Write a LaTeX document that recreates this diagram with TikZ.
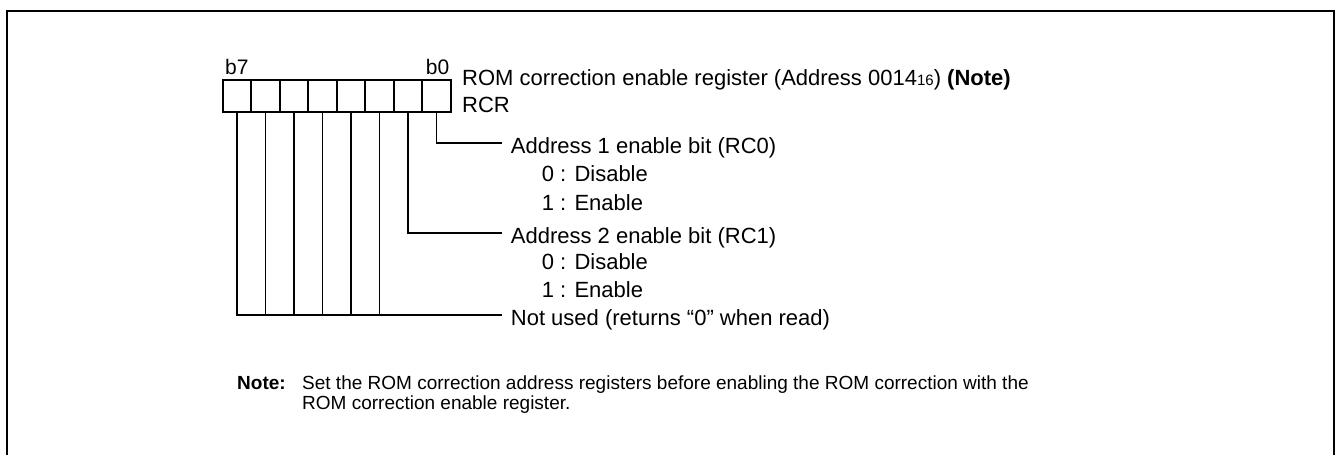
\documentclass[tikz,border=0pt]{standalone}
\usepackage{fontspec}
\setmainfont{Liberation Sans}
\usetikzlibrary{positioning}

\begin{document}
\begin{tikzpicture}[x=1pt, y=-1pt,
  bitcell/.style={rectangle, draw=black, line width=1.7pt, minimum width=28.5pt, minimum height=31.7pt, inner sep=0pt},
  bitlabel/.style={anchor=base, inner sep=0pt, font={\fontsize{21}{25}\selectfont}},
  regtext/.style={anchor=base west, inner sep=0pt, font={\fontsize{22}{28}\selectfont}},
  fieldtext/.style={anchor=west, inner xsep=9pt, inner ysep=0pt, text height=20pt, text depth=0pt, font={\fontsize{22}{28}\selectfont}},
  valtext/.style={anchor=west, inner sep=0pt, text height=20pt, text depth=0pt, font={\fontsize{22}{28}\selectfont}},
  notetext/.style={anchor=base west, inner sep=0pt, font={\fontsize{19}{17}\selectfont}},
  bitline/.style={line width=1.6pt},
  frame/.style={line width=2.6pt}
]
\useasboundingbox (0,0) rectangle (1337,455);
\draw[frame] (7,455) -- (7,11) -- (1334,11) -- (1334,455);

% register cells, b7 on the left
\node[bitcell] (c7) at (237.0,96) {};
\node[bitcell] (c6) at (265.5,96) {};
\node[bitcell] (c5) at (294.0,96) {};
\node[bitcell] (c4) at (322.5,96) {};
\node[bitcell] (c3) at (351.0,96) {};
\node[bitcell] (c2) at (379.5,96) {};
\node[bitcell] (c1) at (408.0,96) {};
\node[bitcell] (c0) at (436.5,96) {};
\node[bitlabel, anchor=base west] (lb7) at (225,74) {b7};
\node[bitlabel, anchor=base east] (lb0) at (449.5,74) {b0};

\node[regtext] (title) at (462,85) {ROM correction enable register (Address 0014{\fontsize{15}{15}\selectfont 16}) \textbf{(Note)}};
\node[regtext] (rcr) at (462,112) {RCR};

% bit fields
\node[fieldtext] (a1) at (501.7,143) {Address 1 enable bit (RC0)};
\node[valtext] (d1) at (541.7,171.6) {0 : Disable};
\node[valtext] (e1) at (541.7,200.2) {1 : Enable};
\node[fieldtext] (a2) at (501.7,233) {Address 2 enable bit (RC1)};
\node[valtext] (d2) at (541.7,259.6) {0 : Disable};
\node[valtext] (e2) at (541.7,287.6) {1 : Enable};
\node[fieldtext] (nu) at (501.7,315) {Not used (returns “0” when read)};

\draw[bitline] (c0.south) |- (a1.west);
\draw[bitline] (c1.south) |- (a2.west);
\draw[bitline] (c7.south) |- (nu.west);
\draw[bitline] (c6.south) -- (c6.south |- nu.west);
\draw[bitline] (c5.south) -- (c5.south |- nu.west);
\draw[bitline] (c4.south) -- (c4.south |- nu.west);
\draw[bitline] (c3.south) -- (c3.south |- nu.west);
\draw[bitline] (c2.south) -- (c2.south |- nu.west);

% note
\node[notetext, font={\fontsize{19}{17}\selectfont\bfseries}] (nlabel) at (237,389) {Note:};
\node[notetext] (nline1) at (302,389) {Set the ROM correction address registers before enabling the ROM correction with the};
\node[notetext] (nline2) at (302,409) {ROM correction enable register.};
\end{tikzpicture}
\end{document}
